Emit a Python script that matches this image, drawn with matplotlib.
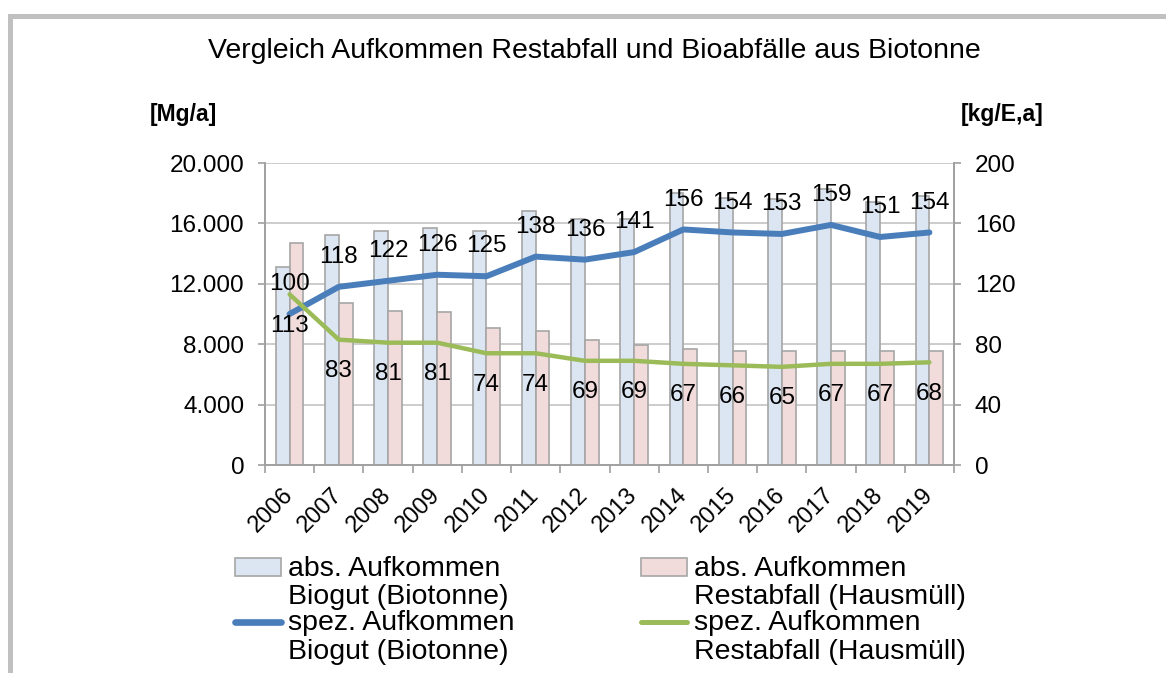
import matplotlib
matplotlib.use("Agg")
import matplotlib.pyplot as plt
import matplotlib.transforms as mtransforms
from matplotlib.legend_handler import HandlerBase, HandlerPatch, HandlerLine2D
from matplotlib.lines import Line2D
from matplotlib.patches import Patch
from matplotlib.ticker import FixedLocator, FuncFormatter
import numpy as np

years = ["2006", "2007", "2008", "2009", "2010", "2011", "2012",
         "2013", "2014", "2015", "2016", "2017", "2018", "2019"]
# absolute amounts [Mg/a] (left axis)
biogut_abs = [13100, 15200, 15500, 15700, 15500, 16800, 16300,
              16300, 18000, 17700, 17600, 18300, 17400, 17800]
restabfall_abs = [14700, 10700, 10200, 10100, 9100, 8900, 8300,
                  7950, 7700, 7570, 7570, 7570, 7570, 7570]
# specific amounts [kg/E,a] (right axis)
biogut_spez = [100, 118, 122, 126, 125, 138, 136, 141, 156, 154, 153, 159, 151, 154]
restabfall_spez = [113, 83, 81, 81, 74, 74, 69, 69, 67, 66, 65, 67, 67, 68]

labels = ["abs. Aufkommen\nBiogut (Biotonne)",
          "abs. Aufkommen\nRestabfall (Hausmüll)",
          "spez. Aufkommen\nBiogut (Biotonne)",
          "spez. Aufkommen\nRestabfall (Hausmüll)"]

plt.rcParams["font.family"] = ["Liberation Sans", "DejaVu Sans"]

BLUE_FILL = "#dce6f2"
PINK_FILL = "#f2dcdb"
EDGE = "#a6a6a6"
BLUE_LINE = "#4a7ebb"
GREEN_LINE = "#9bbb59"
AXIS_GRAY = "#a0a0a0"


class RaisedHandler(HandlerBase):
    """Draw the legend handle next to the first line of a two-line label."""

    def __init__(self, base, shift):
        super().__init__()
        self.base = base
        self.shift = shift

    def create_artists(self, legend, orig_handle, xdescent, ydescent,
                       width, height, fontsize, trans):
        t = mtransforms.Affine2D().translate(0, self.shift * fontsize) + trans
        return self.base.create_artists(legend, orig_handle, xdescent, ydescent,
                                        width, height, fontsize, t)


fig = plt.figure(figsize=(11.66, 6.73), dpi=100)
ax = fig.add_axes([265 / 1166, 1 - 465 / 673, (954 - 265) / 1166, (465 - 163) / 673])
ax2 = ax.twinx()

x = np.arange(len(years))
w = 0.28
ax.bar(x - w / 2, biogut_abs, w, color=BLUE_FILL, edgecolor=EDGE, linewidth=1.2, zorder=2)
ax.bar(x + w / 2, restabfall_abs, w, color=PINK_FILL, edgecolor=EDGE, linewidth=1.2, zorder=2)

ax.set_xlim(-0.5, len(years) - 0.5)
ax.set_ylim(0, 20000)
ax.yaxis.set_major_locator(FixedLocator(np.arange(0, 20001, 4000)))
ax.yaxis.set_major_formatter(FuncFormatter(lambda v, _: f"{int(v):,}".replace(",", ".")))
ax.grid(axis="y", color="#bfbfbf", linewidth=1.1)
ax.set_axisbelow(True)

ax.set_xticks(x)
ax.set_xticklabels(years, rotation=45, ha="right", va="center", rotation_mode="anchor")
ax.set_xticks(np.arange(-0.5, len(years)), minor=True)
ax.tick_params(axis="x", which="major", length=0, pad=19, labelsize=17)
ax.tick_params(axis="x", which="minor", length=6, width=1.2, color=AXIS_GRAY)
ax.tick_params(axis="y", length=5, width=1.2, color=AXIS_GRAY, pad=10, labelsize=17.5)

ax2.plot(x, biogut_spez, color=BLUE_LINE, linewidth=4.3, solid_capstyle="round")
ax2.plot(x, restabfall_spez, color=GREEN_LINE, linewidth=3.2, solid_capstyle="round")
ax2.set_ylim(0, 200)
ax2.yaxis.set_major_locator(FixedLocator(np.arange(0, 201, 40)))
ax2.tick_params(axis="y", length=5, width=1.2, color=AXIS_GRAY, pad=10, labelsize=17.5)

for xi, v in zip(x, biogut_spez):
    ax2.annotate(str(v), (xi, v), xytext=(0, 21.5), textcoords="offset points",
                 ha="center", va="center", fontsize=17.5)
for xi, v in zip(x, restabfall_spez):
    ax2.annotate(str(v), (xi, v), xytext=(0, -22.5), textcoords="offset points",
                 ha="center", va="center", fontsize=17.5)

for a in (ax, ax2):
    a.spines["top"].set_visible(False)
    for s in ("left", "right", "bottom"):
        a.spines[s].set_color(AXIS_GRAY)
        a.spines[s].set_linewidth(1.2)

fig.text(0.510, 1 - 51 / 673, "Vergleich Aufkommen Restabfall und Bioabfälle aus Biotonne",
         ha="center", va="center", fontsize=20.5)
fig.text(183 / 1166, 1 - 114 / 673, "[Mg/a]", ha="center", va="center",
         fontsize=16.5, fontweight="bold")
fig.text(1002 / 1166, 1 - 114 / 673, "[kg/E,a]", ha="center", va="center",
         fontsize=16.5, fontweight="bold")

# outer frame (top and left edges visible)
fig.add_artist(Line2D([9.8 / 1166, 9.8 / 1166], [-0.05, 1 - 15.8 / 673],
                      color="#c0c0c0", linewidth=3.6, solid_capstyle="projecting"))
fig.add_artist(Line2D([9.8 / 1166, 1.05], [1 - 15.8 / 673, 1 - 15.8 / 673],
                      color="#c0c0c0", linewidth=3.6, solid_capstyle="projecting"))

h_bio = Patch(facecolor=BLUE_FILL, edgecolor=EDGE, linewidth=1.2)
h_rest = Patch(facecolor=PINK_FILL, edgecolor=EDGE, linewidth=1.2)
h_bio_l = Line2D([], [], color=BLUE_LINE, linewidth=4.8, solid_capstyle="round")
h_rest_l = Line2D([], [], color=GREEN_LINE, linewidth=3.6, solid_capstyle="round")
hmap = {h_bio: RaisedHandler(HandlerPatch(), 0.56), h_rest: RaisedHandler(HandlerPatch(), 0.56),
        h_bio_l: RaisedHandler(HandlerLine2D(), 0.56), h_rest_l: RaisedHandler(HandlerLine2D(), 0.56)}

common = dict(loc="upper left", frameon=False, borderpad=0, borderaxespad=0,
              handlelength=1.6, handleheight=0.6, handletextpad=0.25,
              labelspacing=0.0, fontsize=20.5, handler_map=hmap)
leg1 = fig.legend([h_bio, h_bio_l], [labels[0], labels[2]],
                  bbox_to_anchor=(235 / 1166, 1 - 556 / 673), **common)
leg2 = fig.legend([h_rest, h_rest_l], [labels[1], labels[3]],
                  bbox_to_anchor=(641 / 1166, 1 - 556 / 673), **common)
for leg in (leg1, leg2):
    for t in leg.get_texts():
        t.set_linespacing(1.12)

fig.savefig("out.png", dpi=100)
